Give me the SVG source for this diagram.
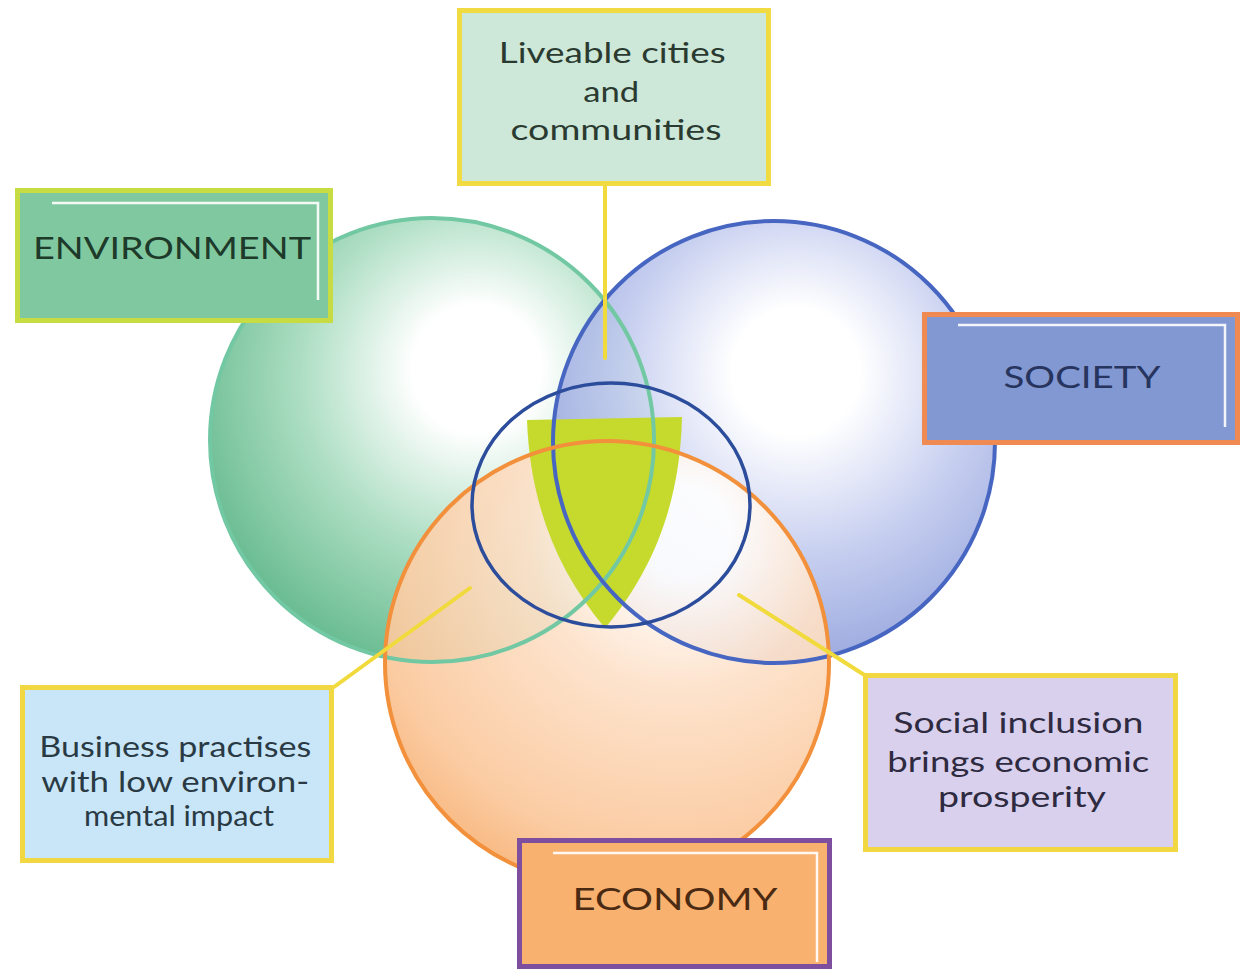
<svg xmlns="http://www.w3.org/2000/svg" width="1243" height="971" viewBox="0 0 1243 971">
  <defs>
    <radialGradient id="gEnv" cx="0.6" cy="0.38" r="0.72" fx="0.6" fy="0.33">
      <stop offset="0" stop-color="#ffffff"/>
      <stop offset="0.2" stop-color="#ffffff"/>
      <stop offset="0.55" stop-color="#addec3"/>
      <stop offset="1" stop-color="#5ab486"/>
    </radialGradient>
    <radialGradient id="gSoc" cx="0.55" cy="0.38" r="0.72" fx="0.55" fy="0.33">
      <stop offset="0" stop-color="#ffffff"/>
      <stop offset="0.2" stop-color="#ffffff"/>
      <stop offset="0.55" stop-color="#c0c9ee"/>
      <stop offset="1" stop-color="#7b8ed3"/>
    </radialGradient>
    <radialGradient id="gEco" cx="0.64" cy="0.24" r="0.85" fx="0.68" fy="0.2">
      <stop offset="0" stop-color="#ffffff"/>
      <stop offset="0.12" stop-color="#ffffff"/>
      <stop offset="0.4" stop-color="#fde1c9"/>
      <stop offset="0.8" stop-color="#fbc89c"/>
      <stop offset="1" stop-color="#f6ad6c"/>
    </radialGradient>
    <style>
      .lbl { font-family: Lato, "Liberation Sans", sans-serif; text-anchor: middle; }
      .big { font-size: 31px; }
      .small { font-size: 29px; }
      .link { stroke: #f1da3c; stroke-width: 4; fill: none; stroke-linecap: round; }
      .shine { stroke: #ffffff; stroke-width: 2.5; fill: none; opacity: 0.9; }
    </style>
  </defs>

  <rect width="1243" height="971" fill="#ffffff"/>

  <!-- overlapping spheres -->
  <g id="spheres">
    <circle cx="432" cy="440" r="222" fill="url(#gEnv)"/>
    <circle cx="774" cy="442" r="221" fill="url(#gSoc)" opacity="0.88"/>
    <circle cx="607" cy="663" r="222" fill="url(#gEco)" opacity="0.92"/>
  </g>

  <!-- core: shield under the sphere outlines, ring on top -->
  <g id="core">
    <path d="M527,420 L682,417 C680,505 652,572 605,628 C558,572 530,505 527,420 Z" fill="#c6da2e"/>
    <circle cx="432" cy="440" r="222" fill="none" stroke="#72c8a2" stroke-width="4"/>
    <circle cx="774" cy="442" r="221" fill="none" stroke="#4766c2" stroke-width="4"/>
    <circle cx="607" cy="663" r="222" fill="none" stroke="#f2903c" stroke-width="4"/>
    <ellipse cx="611" cy="505" rx="139" ry="122" fill="none" stroke="#2c4c9c" stroke-width="3.5"/>
  </g>

  <!-- connectors -->
  <g id="connectors">
    <line class="link" x1="605" y1="186" x2="605" y2="358"/>
    <line class="link" x1="470" y1="588" x2="334" y2="687"/>
    <line class="link" x1="739" y1="595" x2="866" y2="676"/>
  </g>

  <g id="environment">
    <rect x="17.5" y="190.5" width="313" height="130" fill="#80c9a0" stroke="#c6dc42" stroke-width="5"/>
    <polyline class="shine" points="52,203 318,203 318,300"/>
    <text class="lbl big" x="172" y="259" fill="#1e3a2a" textLength="278" lengthAdjust="spacingAndGlyphs">ENVIRONMENT</text>
  </g>

  <g id="society">
    <rect x="924.5" y="314.5" width="313" height="128" fill="#8198d2" stroke="#ef8a52" stroke-width="5"/>
    <polyline class="shine" points="958,325 1225,325 1225,427"/>
    <text class="lbl big" x="1082" y="388" fill="#27345e" textLength="157" lengthAdjust="spacingAndGlyphs">SOCIETY</text>
  </g>

  <g id="economy">
    <rect x="519.5" y="840.5" width="310" height="126" fill="#f9b16f" stroke="#7d4f9e" stroke-width="5"/>
    <polyline class="shine" points="553,853 817,853 817,962"/>
    <text class="lbl big" x="675" y="910" fill="#4a2a12" textLength="205" lengthAdjust="spacingAndGlyphs">ECONOMY</text>
  </g>

  <g id="liveable">
    <rect x="459.5" y="10.5" width="309" height="173" fill="#cde8d8" stroke="#f1db42" stroke-width="5"/>
    <text class="lbl small" fill="#2a3a30">
      <tspan x="616" y="63" textLength="227" lengthAdjust="spacingAndGlyphs">Liveable cities</tspan>
      <tspan x="615" y="102" textLength="56" lengthAdjust="spacingAndGlyphs">and</tspan>
      <tspan x="616" y="140" textLength="211" lengthAdjust="spacingAndGlyphs">communities</tspan>
    </text>
  </g>

  <g id="business">
    <rect x="22.5" y="687.5" width="309" height="173" fill="#c8e6f8" stroke="#f1d842" stroke-width="5"/>
    <text class="lbl small" fill="#2a3a44">
      <tspan x="179" y="757" textLength="272" lengthAdjust="spacingAndGlyphs">Business practises</tspan>
      <tspan x="179" y="792" textLength="268" lengthAdjust="spacingAndGlyphs">with low environ-</tspan>
      <tspan x="179" y="826" textLength="190" lengthAdjust="spacingAndGlyphs">mental impact</tspan>
    </text>
  </g>

  <g id="inclusion">
    <rect x="865.5" y="675.5" width="310" height="174" fill="#d8d0ec" stroke="#f1d842" stroke-width="5"/>
    <text class="lbl small" fill="#2e2a40">
      <tspan x="1022" y="733" textLength="250" lengthAdjust="spacingAndGlyphs">Social inclusion</tspan>
      <tspan x="1022" y="772" textLength="262" lengthAdjust="spacingAndGlyphs">brings economic</tspan>
      <tspan x="1022" y="807" textLength="168" lengthAdjust="spacingAndGlyphs">prosperity</tspan>
    </text>
  </g>
</svg>
